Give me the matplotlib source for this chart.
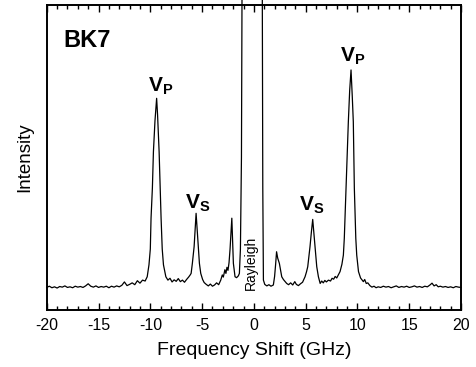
import matplotlib.pyplot as plt
from matplotlib.ticker import MultipleLocator

plt.rcParams['font.family'] = ['Liberation Sans', 'DejaVu Sans']
plt.rcParams['mathtext.fontset'] = 'custom'
plt.rcParams['mathtext.rm'] = 'Liberation Sans'
plt.rcParams['mathtext.bf'] = 'Liberation Sans:bold'
plt.rcParams['axes.unicode_minus'] = False

# Brillouin spectrum of BK7 (arbitrary intensity units)
shift_ghz = [
    -20.0, -19.75, -19.5, -19.25, -19.0, -18.75, -18.5, -18.25, -18.0, -17.75,
    -17.5, -17.25, -17.0, -16.75, -16.5, -16.25, -16.0, -15.75, -15.5, -15.25,
    -15.0, -14.75, -14.5, -14.25, -14.0, -13.75, -13.5, -13.25, -13.0, -12.75,
    -12.5, -12.25, -12.0, -11.75, -11.5, -11.25, -11.0, -10.75, -10.5, -10.3,
    -10.13, -10.0, -9.93, -9.8, -9.7, -9.55, -9.39, -9.3, -9.15, -8.96,
    -8.85, -8.73, -8.5, -8.3, -8.1, -7.9, -7.7, -7.5, -7.3, -7.1,
    -6.9, -6.7, -6.5, -6.3, -6.15, -6.06, -5.94, -5.77, -5.68, -5.58,
    -5.47, -5.36, -5.26, -5.13, -4.95, -4.8, -4.6, -4.4, -4.2, -4.0,
    -3.8, -3.6, -3.4, -3.2, -3.05, -2.95, -2.8, -2.7, -2.6, -2.5,
    -2.4, -2.3, -2.2, -2.13, -2.05, -1.98, -1.82, -1.67, -1.5, -1.4,
    -1.3, -1.2, -1.15, -1.1, -0.5, 0.0, 0.5, 0.8, 0.86, 0.92,
    1.05, 1.25, 1.45, 1.65, 1.88, 2.0, 2.1, 2.19, 2.3, 2.46,
    2.58, 2.69, 2.85, 3.0, 3.17, 3.35, 3.55, 3.75, 3.95, 4.1,
    4.3, 4.5, 4.7, 4.94, 5.08, 5.2, 5.42, 5.55, 5.68, 5.8,
    5.91, 6.07, 6.23, 6.4, 6.55, 6.7, 6.85, 7.0, 7.2, 7.4,
    7.55, 7.7, 7.85, 8.0, 8.15, 8.32, 8.5, 8.64, 8.73, 8.9,
    9.12, 9.25, 9.38, 9.5, 9.6, 9.7, 9.84, 9.93, 10.1, 10.3,
    10.57, 10.7, 10.85, 11.0, 11.2, 11.4, 11.6, 11.8, 12.0, 12.25,
    12.5, 12.75, 13.0, 13.25, 13.5, 13.75, 14.0, 14.25, 14.5, 14.75,
    15.0, 15.25, 15.5, 15.75, 16.0, 16.25, 16.5, 16.75, 17.0, 17.2,
    17.4, 17.6, 17.8, 18.0, 18.25, 18.5, 18.75, 19.0, 19.25, 19.5,
    19.75, 20.0,
]
intensity = [
    7.4, 7.8, 7.3, 7.6, 7.2, 7.7, 7.5, 7.9, 7.4, 7.6,
    7.3, 7.8, 7.5, 7.7, 7.4, 7.9, 8.6, 7.8, 7.5, 7.9,
    7.4, 7.7, 7.5, 7.8, 7.3, 7.8, 7.5, 7.9, 7.6, 8.1,
    9.2, 8.0, 8.4, 8.9, 8.3, 9.6, 8.8, 9.8, 9.5, 10.9,
    14.8, 20.0, 30.1, 40.0, 51.9, 62.0, 69.4, 64.0, 51.9, 30.1,
    20.0, 14.8, 10.9, 9.8, 10.4, 9.2, 9.9, 9.4, 10.3, 9.3,
    9.8, 9.1, 10.0, 10.8, 11.5, 12.0, 15.3, 20.8, 26.0, 31.7,
    26.0, 20.8, 15.3, 12.0, 10.0, 9.0, 8.4, 7.9, 8.5, 7.8,
    8.2, 8.9, 8.3, 9.8, 11.5, 10.8, 13.2, 12.0, 14.0, 13.0,
    15.5, 20.0, 26.0, 30.1, 22.0, 15.3, 10.9, 10.6, 11.2, 12.0,
    20.0, 50.0, 100.0, 140.0, 600.0, 1000.0, 600.0, 120.0, 40.0, 9.8,
    8.4, 7.9, 8.3, 7.8, 8.2, 11.0, 15.0, 19.1, 17.0, 15.3,
    13.0, 10.9, 10.0, 9.4, 8.7, 8.3, 8.9, 8.2, 9.3, 8.4,
    8.0, 8.6, 9.1, 10.9, 12.5, 14.2, 20.8, 25.5, 29.7, 25.0,
    20.8, 14.2, 10.9, 8.7, 9.5, 8.9, 9.7, 9.2, 9.8, 9.5,
    10.4, 10.1, 11.0, 10.5, 11.5, 12.6, 15.0, 18.0, 23.5, 39.9,
    61.7, 72.0, 78.7, 70.0, 61.7, 39.9, 23.5, 18.0, 12.6, 10.5,
    9.3, 10.0, 8.7, 8.9, 8.0, 7.5, 7.8, 7.3, 7.6, 7.4,
    7.8, 7.5, 7.7, 7.3, 7.6, 7.9, 7.4, 7.7, 7.5, 7.8,
    7.4, 7.6, 7.9, 7.5, 7.7, 7.4, 7.8, 7.6, 8.2, 8.8,
    7.9, 8.3, 7.6, 7.8, 7.5, 7.7, 7.4, 7.6, 7.3, 7.7,
    7.5, 7.4,
]

peak_labels = [r'$\mathbf{V_P}$', r'$\mathbf{V_S}$', r'$\mathbf{V_S}$', r'$\mathbf{V_P}$']
peak_label_x = [-9.0, -5.4, 5.6, 9.5]
peak_label_y = [71.5, 33.3, 32.6, 81.3]

fig = plt.figure(figsize=(4.77, 3.67), dpi=100)
ax = fig.add_axes([0.098, 0.1553, 0.8685, 0.8311])

ax.plot(shift_ghz, intensity, color='black', lw=0.9, clip_on=False)

ax.set_xlim(-20, 20)
ax.set_ylim(0, 100)
ax.xaxis.set_major_locator(MultipleLocator(5))
ax.xaxis.set_minor_locator(MultipleLocator(1))
ax.xaxis.set_ticks_position('both')
ax.tick_params(axis='x', which='both', direction='in', top=True, bottom=True,
               labelsize=11.5, pad=6)
ax.tick_params(axis='x', which='major', length=5, width=1)
ax.tick_params(axis='x', which='minor', length=3, width=1)
ax.set_yticks([])
for sp in ax.spines.values():
    sp.set_linewidth(1.4)

ax.set_xlabel('Frequency Shift (GHz)', fontsize=14, labelpad=6)
ax.set_ylabel('Intensity', fontsize=13.5, labelpad=10)

ax.text(-18.4, 86.2, 'BK7', fontsize=17, fontweight='bold', ha='left', va='baseline')
for lab, x, y in zip(peak_labels, peak_label_x, peak_label_y):
    ax.text(x, y, lab, fontsize=15, ha='center', va='baseline')
ax.text(-0.27, 6.6, 'Rayleigh', fontsize=10, rotation=90, ha='center', va='bottom')

fig.savefig('out.png', dpi=100)
